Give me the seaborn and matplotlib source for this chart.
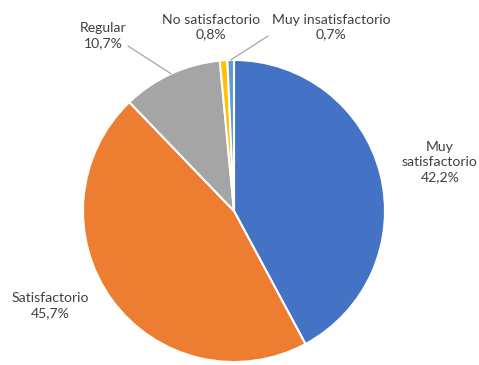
import numpy as np
import matplotlib
matplotlib.use("Agg")
import matplotlib.pyplot as plt
import seaborn as sns

# Survey satisfaction breakdown
categories = ["Muy satisfactorio", "Satisfactorio", "Regular", "No satisfactorio", "Muy insatisfactorio"]
values = [42.2, 45.7, 10.7, 0.8, 0.7]
value_labels = ["42,2%", "45,7%", "10,7%", "0,8%", "0,7%"]
colors = ["#4472C4", "#ED7D31", "#A5A5A5", "#FFC000", "#5B9BD5"]

sns.set_theme(style="white")
plt.rcParams["font.family"] = ["Lato", "DejaVu Sans"]

W, H = 479, 365
fig = plt.figure(figsize=(W / 100, H / 100), dpi=100)
fig.patch.set_facecolor("white")

# pie centre (234, 211) px from top-left, radius 151 px
cx, cy, r = 234, 211, 151
ax = fig.add_axes([(cx - r) / W, (H - cy - r) / H, 2 * r / W, 2 * r / H])
wedges, _ = ax.pie(values, colors=colors, startangle=90, counterclock=False,
                   wedgeprops=dict(edgecolor="white", linewidth=1.5))
ax.set_xlim(-1, 1)
ax.set_ylim(-1, 1)
ax.set_aspect("equal")
ax.axis("off")

txt_color = "#404040"
fs = 10.1

def wedge_point(w, rad=1.0):
    ang = np.deg2rad((w.theta1 + w.theta2) / 2)
    return rad * np.cos(ang), rad * np.sin(ang)

# label positions in image pixels (top-left origin)
label_pos = {
    "Muy satisfactorio": (440, 162),
    "Satisfactorio": (50, 306),
    "Regular": (103, 36),
    "No satisfactorio": (211, 27),
    "Muy insatisfactorio": (331, 27),
}
label_text = {
    "Muy satisfactorio": "Muy\nsatisfactorio\n" + value_labels[0],
    "Satisfactorio": "Satisfactorio\n" + value_labels[1],
    "Regular": "Regular\n" + value_labels[2],
    "No satisfactorio": "No satisfactorio\n" + value_labels[3],
    "Muy insatisfactorio": "Muy insatisfactorio\n" + value_labels[4],
}
for cat in categories:
    x, y = label_pos[cat]
    fig.text(x / W, 1 - y / H, label_text[cat], ha="center", va="center",
             fontsize=fs, color=txt_color, linespacing=1.3)

# leader lines for the small slices at the top
leaders = {"Regular": (128, 46), "Muy insatisfactorio": (268, 36)}
for cat, (lx, ly) in leaders.items():
    w = wedges[categories.index(cat)]
    px, py = wedge_point(w)
    ax.annotate("", xy=(px, py), xycoords="data",
                xytext=(lx, H - ly), textcoords="figure pixels",
                arrowprops=dict(arrowstyle="-", color="#A6A6A6", lw=0.9,
                                shrinkA=0, shrinkB=0))

fig.savefig("out.png", dpi=100, facecolor="white")
